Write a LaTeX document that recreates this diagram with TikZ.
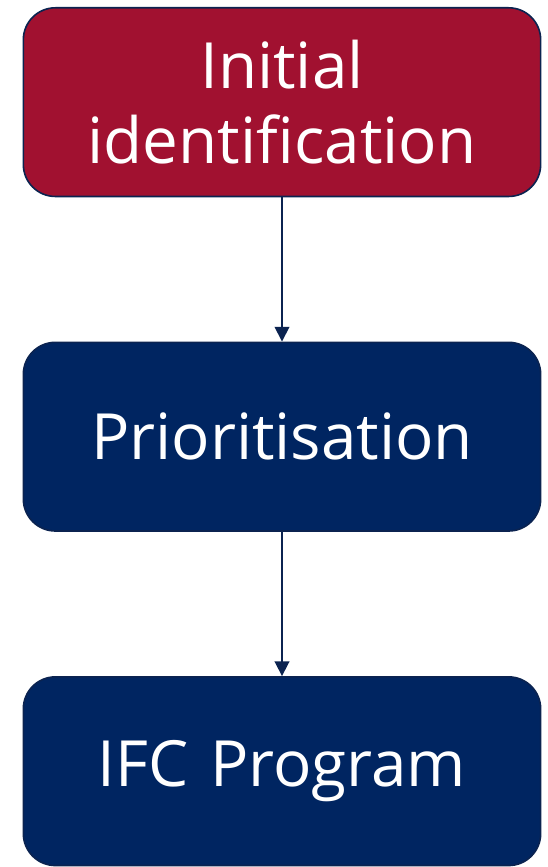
\documentclass[tikz,border=0pt]{standalone}
\usepackage{fontspec}
\setmainfont{Open Sans}
\usepackage{tikz}
\usetikzlibrary{arrows.meta}
\usetikzlibrary{positioning}

\definecolor{ifcred}{HTML}{A11130}
\definecolor{ifcblue}{HTML}{002561}
\definecolor{ifcline}{HTML}{0B2350}

\tikzset{
    stepbox/.style={draw=ifcline, line width=1.2pt, rounded corners=24pt,
    text centered, text=white, minimum width=388pt, minimum height=141.5pt,
    text width=380pt, inner sep=0pt, font=\fontsize{47.8}{56}\selectfont},
    flow/.style={draw=ifcline, line width=1.3pt, -{Triangle[width=11pt,length=11pt]}}
}

\begin{document}
\begin{tikzpicture}
    \useasboundingbox (0,0) rectangle (410.25pt,-650.25pt);

    \node (initial) [stepbox, fill=ifcred, anchor=north] at (211.5pt,-5.25pt) {Initial\\identification};

    \node (prior) [stepbox, fill=ifcblue, below=108.2pt of initial] {Prioritisation};

    \node (program) [stepbox, fill=ifcblue, below=108.2pt of prior] {IFC Program};

    \draw [flow] (initial) -- (prior);
    \draw [flow] (prior) -- (program);
\end{tikzpicture}
\end{document}
